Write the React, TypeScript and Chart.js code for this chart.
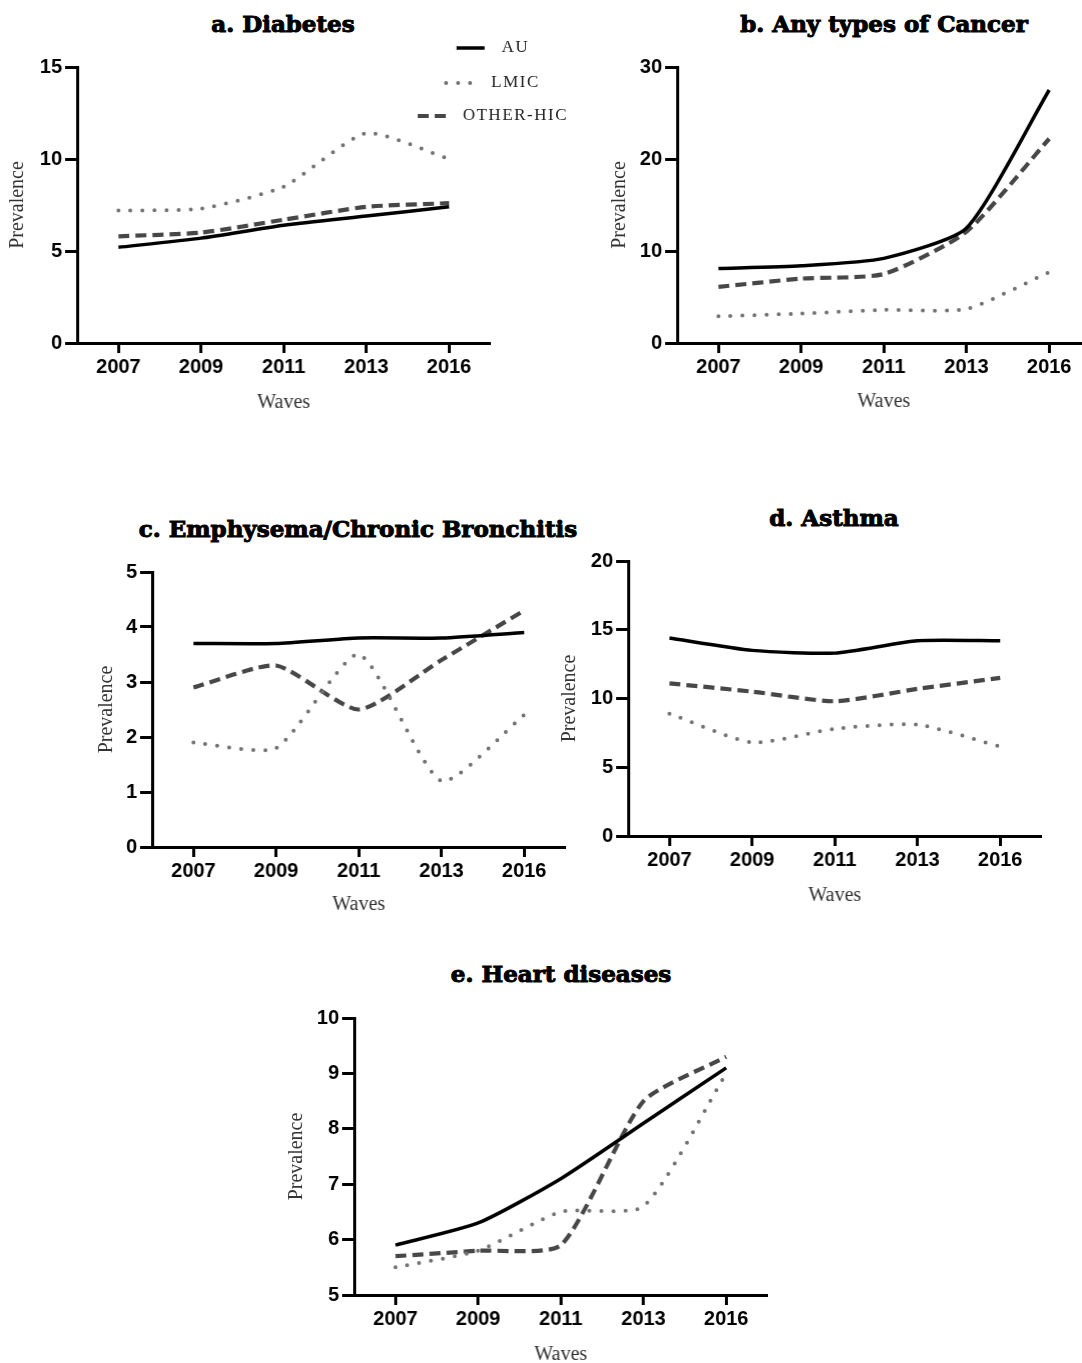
import React, { useEffect, useRef } from 'react';
import { Chart, registerables } from 'chart.js';

Chart.register(...registerables);

// ---------- data ----------
const waves = ['2007', '2009', '2011', '2013', '2016'];
const seriesNames = ['AU', 'LMIC', 'OTHER-HIC'];

const diabetesAU = [5.2, 5.7, 6.4, 6.9, 7.4];
const diabetesLMIC = [7.2, 7.3, 8.5, 11.4, 10.0];
const diabetesOther = [5.8, 6.0, 6.7, 7.4, 7.6];

const cancerAU = [8.1, 8.4, 9.2, 12.5, 27.5];
const cancerLMIC = [2.9, 3.2, 3.6, 3.7, 7.7];
const cancerOther = [6.1, 7.0, 7.5, 12.1, 22.2];

const emphysemaAU = [3.7, 3.7, 3.8, 3.8, 3.9];
const emphysemaLMIC = [1.9, 1.8, 3.5, 1.2, 2.4];
const emphysemaOther = [2.9, 3.3, 2.5, 3.4, 4.3];

const asthmaAU = [14.4, 13.5, 13.3, 14.2, 14.2];
const asthmaLMIC = [8.9, 6.8, 7.8, 8.1, 6.5];
const asthmaOther = [11.1, 10.5, 9.8, 10.7, 11.5];

const heartAU = [5.9, 6.3, 7.1, 8.1, 9.1];
const heartLMIC = [5.5, 5.8, 6.5, 6.6, 9.0];
const heartOther = [5.7, 5.8, 5.9, 8.5, 9.3];

const panelTitles = [
  'a. Diabetes',
  'b. Any types of Cancer',
  'c. Emphysema/Chronic Bronchitis',
  'd. Asthma',
  'e. Heart diseases',
];

const yTicksA = { min: 0, max: 15, step: 5 };
const yTicksB = { min: 0, max: 30, step: 10 };
const yTicksC = { min: 0, max: 5, step: 1 };
const yTicksD = { min: 0, max: 20, step: 5 };
const yTicksE = { min: 5, max: 10, step: 1 };

// ---------- layout (page pixels) ----------
const SPACING = 82.5;
type Layout = {
  plotLeft: number;
  plotTop: number;
  plotBottom: number;
  prevX: number;
  wavesY: number;
  padTop: number;
  padRight: number;
  titleX: number;
  titleY: number;
};

const layoutA: Layout = { plotLeft: 77, plotTop: 67, plotBottom: 343, prevX: 18, wavesY: 403, padTop: 40, padRight: 100, titleX: 283, titleY: 23 };
const layoutB: Layout = { plotLeft: 677, plotTop: 67, plotBottom: 343, prevX: 620, wavesY: 402, padTop: 16, padRight: 10, titleX: 884, titleY: 23 };
const layoutC: Layout = { plotLeft: 152, plotTop: 572, plotBottom: 847, prevX: 107, wavesY: 905, padTop: 16, padRight: 10, titleX: 358, titleY: 528 };
const layoutD: Layout = { plotLeft: 628, plotTop: 561, plotBottom: 836, prevX: 570, wavesY: 896, padTop: 16, padRight: 10, titleX: 834, titleY: 517 };
const layoutE: Layout = { plotLeft: 354, plotTop: 1018, plotBottom: 1295, prevX: 297, wavesY: 1355, padTop: 16, padRight: 10, titleX: 561, titleY: 973 };

const legendYs = [48, 83, 116];
const legendCX = 492;

// ---------- styles ----------
const seriesStyles = [
  { borderColor: '#000000', borderWidth: 3.5, borderDash: [] as number[], borderCapStyle: 'butt' },
  { borderColor: '#737373', borderWidth: 4, borderDash: [0, 12], borderCapStyle: 'round' },
  { borderColor: '#474747', borderWidth: 4.2, borderDash: [11, 6], borderCapStyle: 'butt' },
];

const tickFont = { family: '"Liberation Sans", Arial, sans-serif', size: 20, weight: 'bold' as const };
const axisTitleFont = { family: '"Liberation Serif", "Times New Roman", serif', size: 20, lineHeight: 1 };

function makeLegendPlugin(canvasLeft: number, canvasTop: number) {
  return {
    id: 'customLegend',
    afterDraw(chart: any) {
      const ctx = chart.ctx as CanvasRenderingContext2D;
      ctx.save();
      ctx.font = '17px "Liberation Serif", "Times New Roman", serif';
      (ctx as any).letterSpacing = '1.5px';
      ctx.textBaseline = 'middle';
      ctx.textAlign = 'left';
      chart.data.datasets.forEach((ds: any, i: number) => {
        const y = legendYs[i] - canvasTop;
        const label = ds.label as string;
        const tw = ctx.measureText(label).width;
        const lineLen = 28;
        const gap = 17;
        const total = lineLen + gap + tw;
        const x0 = legendCX - canvasLeft - total / 2;
        ctx.beginPath();
        ctx.strokeStyle = ds.borderColor;
        ctx.lineWidth = ds.borderWidth;
        ctx.setLineDash(ds.borderDash || []);
        ctx.lineCap = ds.borderCapStyle || 'butt';
        ctx.moveTo(x0, y);
        ctx.lineTo(x0 + lineLen, y);
        ctx.stroke();
        ctx.setLineDash([]);
        ctx.fillStyle = '#222';
        ctx.fillText(label, x0 + lineLen + gap, y);
      });
      ctx.restore();
    },
  };
}

type PanelProps = {
  layout: Layout;
  title: string;
  values: number[][];
  yRange: { min: number; max: number; step: number };
  showLegend?: boolean;
};

function Panel({ layout, title, values, yRange, showLegend }: PanelProps) {
  const ref = useRef<HTMLCanvasElement>(null);
  const canvasLeft = layout.prevX - 15;
  const canvasTop = layout.plotTop - layout.padTop;
  const plotRight = layout.plotLeft + SPACING * 5;
  const width = plotRight + layout.padRight - canvasLeft;
  const height = layout.wavesY + 15 - canvasTop;
  const yW = layout.plotLeft - canvasLeft;
  const xH = layout.wavesY + 15 - layout.plotBottom;

  useEffect(() => {
    if (!ref.current) return;
    const datasets = values.map((vals, i) => ({
      label: seriesNames[i],
      data: vals,
      borderColor: seriesStyles[i].borderColor,
      backgroundColor: seriesStyles[i].borderColor,
      borderWidth: seriesStyles[i].borderWidth,
      borderDash: seriesStyles[i].borderDash,
      borderCapStyle: seriesStyles[i].borderCapStyle as any,
      borderJoinStyle: 'round' as const,
      pointRadius: 0,
      tension: 0.2,
      fill: false,
    }));
    const chart = new Chart(ref.current, {
      type: 'line',
      data: { labels: waves, datasets },
      options: {
        animation: false,
        responsive: true,
        maintainAspectRatio: false,
        layout: { padding: { top: layout.padTop, right: layout.padRight, left: 0, bottom: 0 } },
        plugins: { legend: { display: false }, tooltip: { enabled: false }, title: { display: false } },
        scales: {
          x: {
            type: 'category',
            offset: true,
            grid: { offset: false, drawOnChartArea: false, drawTicks: true, tickLength: 10, tickWidth: 3, tickColor: '#000' },
            border: { display: true, width: 3, color: '#000' },
            ticks: { font: tickFont, color: '#000', padding: 2, maxRotation: 0, autoSkip: false },
            title: { display: true, text: 'Waves', font: axisTitleFont, color: '#333', padding: { top: 0, bottom: 5 } },
            afterFit: (s: any) => {
              s.height = xH;
            },
          },
          y: {
            type: 'linear',
            min: yRange.min,
            max: yRange.max,
            grid: { drawOnChartArea: false, drawTicks: true, tickLength: 12, tickWidth: 3, tickColor: '#000' },
            border: { display: true, width: 3, color: '#000' },
            ticks: { stepSize: yRange.step, font: tickFont, color: '#000', padding: 3 },
            title: { display: true, text: 'Prevalence', font: axisTitleFont, color: '#333', padding: { top: 5, bottom: 0 } },
            afterFit: (s: any) => {
              s.width = yW;
            },
          },
        },
      },
      plugins: showLegend ? [makeLegendPlugin(canvasLeft, canvasTop)] : [],
    } as any);
    return () => chart.destroy();
  }, []);

  return (
    <>
      <div
        style={{
          position: 'absolute',
          left: layout.titleX,
          top: layout.titleY,
          transform: 'translate(-50%, -50%)',
          whiteSpace: 'nowrap',
          fontFamily: '"DejaVu Serif", serif',
          fontWeight: 'bold',
          fontSize: 23,
          color: '#000',
          lineHeight: 1,
          WebkitTextStroke: '1px #000',
        }}
      >
        {title}
      </div>
      <div style={{ position: 'absolute', left: canvasLeft, top: canvasTop, width, height }}>
        <canvas ref={ref} style={{ display: 'block' }} />
      </div>
    </>
  );
}

export default function App() {
  return (
    <div
      style={{
        position: 'fixed',
        left: 0,
        top: 0,
        width: 1082,
        height: 1363,
        overflow: 'hidden',
        background: '#fff',
      }}
    >
      <Panel layout={layoutA} title={panelTitles[0]} values={[diabetesAU, diabetesLMIC, diabetesOther]} yRange={yTicksA} showLegend />
      <Panel layout={layoutB} title={panelTitles[1]} values={[cancerAU, cancerLMIC, cancerOther]} yRange={yTicksB} />
      <Panel layout={layoutC} title={panelTitles[2]} values={[emphysemaAU, emphysemaLMIC, emphysemaOther]} yRange={yTicksC} />
      <Panel layout={layoutD} title={panelTitles[3]} values={[asthmaAU, asthmaLMIC, asthmaOther]} yRange={yTicksD} />
      <Panel layout={layoutE} title={panelTitles[4]} values={[heartAU, heartLMIC, heartOther]} yRange={yTicksE} />
    </div>
  );
}
